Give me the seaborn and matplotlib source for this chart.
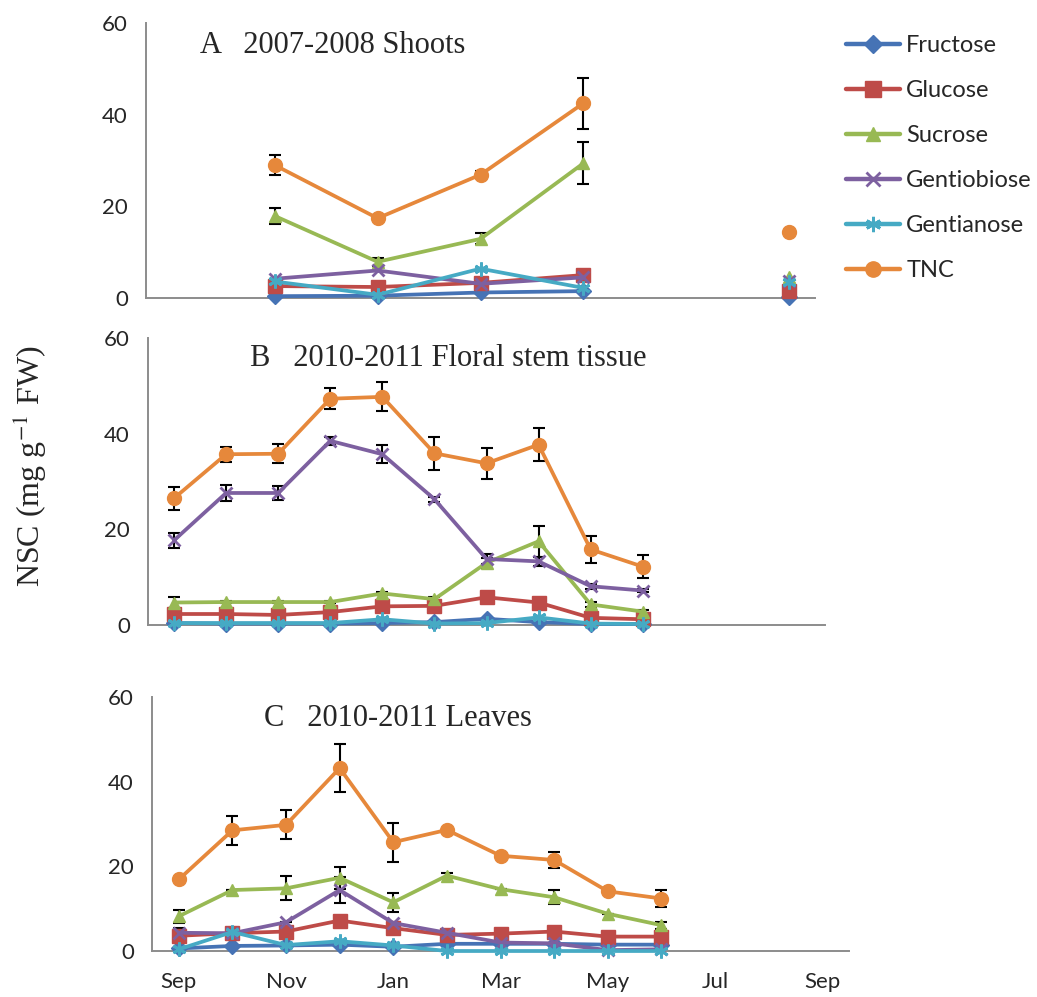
import matplotlib
matplotlib.use("Agg")
import pandas as pd
import matplotlib.pyplot as plt
from matplotlib.lines import Line2D
import seaborn as sns

SUGARS = ["Fructose", "Glucose", "Sucrose", "Gentiobiose", "Gentianose", "TNC"]
MONTH_TICKS = [0, 2, 4, 6, 8, 10, 12]
MONTH_LABELS = ["Sep", "Nov", "Jan", "Mar", "May", "Jul", "Sep"]

# months counted from September (0) to the next September (12)
A_MONTHS = [2, 4, 6, 8]
A_FRUCTOSE = [0.4, 0.5, 1.2, 1.5]
A_GLUCOSE = [2.6, 2.4, 3.3, 5.0]
A_SUCROSE = [17.9, 7.9, 12.9, 29.4]
A_GENTIOBIOSE = [4.2, 6.0, 3.1, 4.5]
A_GENTIANOSE = [3.6, 0.7, 6.4, 2.2]
A_TNC = [29.0, 17.4, 26.9, 42.5]
A_SUCROSE_ERR = [1.7, 0.9, 1.2, 4.6]
A_TNC_ERR = [2.1, 0.7, 0.8, 5.6]

# lone sample in the following September
A_LATE_MONTH = [12]
A_LATE_FRUCTOSE = [0.2]
A_LATE_GLUCOSE = [1.5]
A_LATE_SUCROSE = [4.5]
A_LATE_GENTIOBIOSE = [3.8]
A_LATE_GENTIANOSE = [3.5]
A_LATE_TNC = [14.3]

BC_MONTHS = [0, 1, 2, 3, 4, 5, 6, 7, 8, 9]

B_FRUCTOSE = [0.4, 0.3, 0.3, 0.3, 0.4, 0.6, 1.3, 0.6, 0.2, 0.2]
B_GLUCOSE = [2.3, 2.3, 2.1, 2.7, 3.9, 4.0, 5.8, 4.7, 1.5, 1.2]
B_SUCROSE = [4.7, 4.8, 4.8, 4.8, 6.6, 5.4, 13.0, 17.5, 4.3, 2.8]
B_GENTIOBIOSE = [17.7, 27.6, 27.6, 38.5, 35.7, 26.3, 13.8, 13.3, 8.1, 7.2]
B_GENTIANOSE = [0.4, 0.4, 0.4, 0.4, 1.2, 0.3, 0.4, 1.6, 0.3, 0.2]
B_TNC = [26.5, 35.7, 35.8, 47.3, 47.7, 35.9, 33.8, 37.7, 15.8, 12.2]
B_SUCROSE_ERR = [1.2, 0.3, 0.3, 0.3, 0.4, 0.4, 1.1, 3.3, 0.6, 0.3]
B_GENTIOBIOSE_ERR = [1.5, 1.6, 1.5, 0.9, 1.9, 0.5, 1.1, 0.9, 0.5, 0.4]
B_TNC_ERR = [2.4, 1.6, 2.0, 2.2, 3.0, 3.5, 3.3, 3.5, 2.9, 2.4]

C_FRUCTOSE = [0.6, 1.2, 1.3, 1.5, 1.0, 1.7, 1.7, 1.7, 1.5, 1.5]
C_GLUCOSE = [3.6, 4.2, 4.6, 7.2, 5.4, 3.8, 4.1, 4.6, 3.4, 3.4]
C_SUCROSE = [8.2, 14.4, 14.8, 17.3, 11.5, 17.8, 14.6, 12.7, 8.8, 6.1]
C_GENTIOBIOSE = [4.3, 4.2, 6.8, 14.4, 6.6, 4.3, 2.0, 1.8, 0.2, 0.4]
C_GENTIANOSE = [0.4, 4.5, 1.4, 2.3, 1.3, 0.0, 0.0, 0.0, 0.0, 0.0]
C_TNC = [16.9, 28.5, 29.8, 43.2, 25.7, 28.6, 22.5, 21.5, 14.1, 12.4]
C_SUCROSE_ERR = [1.6, 0.0, 2.8, 2.6, 2.2, 0.6, 0.0, 1.6, 0.0, 0.8]
C_GENTIOBIOSE_ERR = [1.2, 0.0, 0.0, 3.0, 0.0, 0.0, 0.0, 0.0, 0.0, 0.0]
C_TNC_ERR = [0.0, 3.4, 3.4, 5.7, 4.6, 0.0, 0.0, 1.9, 0.0, 2.0]

COLORS = {
    "Fructose": "#4673B5",
    "Glucose": "#BE4B48",
    "Sucrose": "#98B954",
    "Gentiobiose": "#7D60A0",
    "Gentianose": "#46AAC4",
    "TNC": "#E6883B",
}
MARKERS = {
    "Fructose": "D",
    "Glucose": "s",
    "Sucrose": "^",
    "Gentiobiose": "x",
    "Gentianose": (6, 2, 0),
    "TNC": "o",
}
MSIZE = {"Fructose": 8, "Glucose": 10, "Sucrose": 9, "Gentiobiose": 9,
         "Gentianose": 10, "TNC": 10}
GRAY = "#8c8c8c"


def draw_series(ax, months, series):
    for name in SUGARS:
        c = COLORS[name]
        sns.lineplot(
            x=months, y=series[name], ax=ax, color=c, marker=MARKERS[name],
            markersize=MSIZE[name], markeredgecolor=c,
            markeredgewidth=2 if name in ("Gentiobiose", "Gentianose") else 1,
            linewidth=2.7, legend=False, sort=False, clip_on=False, zorder=3,
        )


def draw_errors(ax, months, values, errors):
    ax.errorbar(months, values, yerr=errors, fmt="none", ecolor="black",
                elinewidth=1.5, capsize=4.5, capthick=1.5, zorder=2.5,
                clip_on=False)


def style_axis(ax, tick_dir):
    ax.set_xlim(-0.5, 12.5)
    ax.set_ylim(0, 60)
    ax.set_yticks([0, 20, 40, 60])
    ax.set_xticks([1.5, 3.5, 5.5, 7.5, 9.5, 11.5])
    ax.set_xticklabels([])
    ax.grid(False)
    for s in ["top", "right"]:
        ax.spines[s].set_visible(False)
    for s in ["left", "bottom"]:
        ax.spines[s].set_color(GRAY)
        ax.spines[s].set_linewidth(1.4)
    ax.tick_params(axis="x", which="major", direction=tick_dir, length=6,
                   width=1.4, color=GRAY)
    ax.tick_params(axis="y", direction="out", length=6, width=1.4,
                   color=GRAY, labelsize=16, pad=7)
    ax.set_xlabel("")
    ax.set_ylabel("")


sns.set_theme(style="white")
plt.rcParams["font.family"] = ["Lato", "DejaVu Sans"]
plt.rcParams["mathtext.fontset"] = "stix"

fig = plt.figure(figsize=(10.37, 9.97), dpi=100)
W, H = 1037, 997


def add_axes(left, right, top, bottom):
    return fig.add_axes([left / W, 1 - bottom / H, (right - left) / W, (bottom - top) / H])


ax_a = add_axes(146, 815, 23, 298)
ax_b = add_axes(148, 825, 338, 625)
ax_c = add_axes(152, 849, 697, 951)

# panel A
draw_errors(ax_a, A_MONTHS, A_SUCROSE, A_SUCROSE_ERR)
draw_errors(ax_a, A_MONTHS, A_TNC, A_TNC_ERR)
draw_series(ax_a, A_MONTHS, {
    "Fructose": A_FRUCTOSE, "Glucose": A_GLUCOSE, "Sucrose": A_SUCROSE,
    "Gentiobiose": A_GENTIOBIOSE, "Gentianose": A_GENTIANOSE, "TNC": A_TNC,
})
draw_series(ax_a, A_LATE_MONTH, {
    "Fructose": A_LATE_FRUCTOSE, "Glucose": A_LATE_GLUCOSE,
    "Sucrose": A_LATE_SUCROSE, "Gentiobiose": A_LATE_GENTIOBIOSE,
    "Gentianose": A_LATE_GENTIANOSE, "TNC": A_LATE_TNC,
})
style_axis(ax_a, "in")

# panel B
draw_errors(ax_b, BC_MONTHS, B_SUCROSE, B_SUCROSE_ERR)
draw_errors(ax_b, BC_MONTHS, B_GENTIOBIOSE, B_GENTIOBIOSE_ERR)
draw_errors(ax_b, BC_MONTHS, B_TNC, B_TNC_ERR)
draw_series(ax_b, BC_MONTHS, {
    "Fructose": B_FRUCTOSE, "Glucose": B_GLUCOSE, "Sucrose": B_SUCROSE,
    "Gentiobiose": B_GENTIOBIOSE, "Gentianose": B_GENTIANOSE, "TNC": B_TNC,
})
style_axis(ax_b, "out")

# panel C
draw_errors(ax_c, BC_MONTHS, C_SUCROSE, C_SUCROSE_ERR)
draw_errors(ax_c, BC_MONTHS, C_GENTIOBIOSE, C_GENTIOBIOSE_ERR)
draw_errors(ax_c, BC_MONTHS, C_TNC, C_TNC_ERR)
draw_series(ax_c, BC_MONTHS, {
    "Fructose": C_FRUCTOSE, "Glucose": C_GLUCOSE, "Sucrose": C_SUCROSE,
    "Gentiobiose": C_GENTIOBIOSE, "Gentianose": C_GENTIANOSE, "TNC": C_TNC,
})
style_axis(ax_c, "in")
ax_c.set_xticks(MONTH_TICKS, labels=MONTH_LABELS, minor=True)
ax_c.tick_params(axis="x", which="minor", length=0, labelsize=16, pad=15)

# panel titles
title_font = dict(family="Liberation Serif", fontsize=22, va="baseline")
fig.text(200 / W, 1 - 53 / H, "A   2007-2008 Shoots", **title_font)
fig.text(250 / W, 1 - 366 / H, "B   2010-2011 Floral stem tissue", **title_font)
fig.text(264 / W, 1 - 726 / H, "C   2010-2011 Leaves", **title_font)

fig.text(30 / W, 1 - 466 / H, "NSC (mg g$^{-1}$ FW)", rotation=90,
         family="Liberation Serif", fontsize=23, ha="center", va="center")

handles = [
    Line2D([], [], color=COLORS[n], marker=MARKERS[n], markersize=MSIZE[n] + 1,
           markeredgecolor=COLORS[n],
           markeredgewidth=2 if n in ("Gentiobiose", "Gentianose") else 1,
           linewidth=3.2)
    for n in SUGARS
]
fig.legend(handles, SUGARS, loc="upper left", bbox_to_anchor=(846 / W, 1 - 35 / H),
           frameon=False, fontsize=17, handlelength=2.3, handletextpad=0.25,
           labelspacing=1.02, borderpad=0, borderaxespad=0)

fig.savefig("out.png", dpi=100)
